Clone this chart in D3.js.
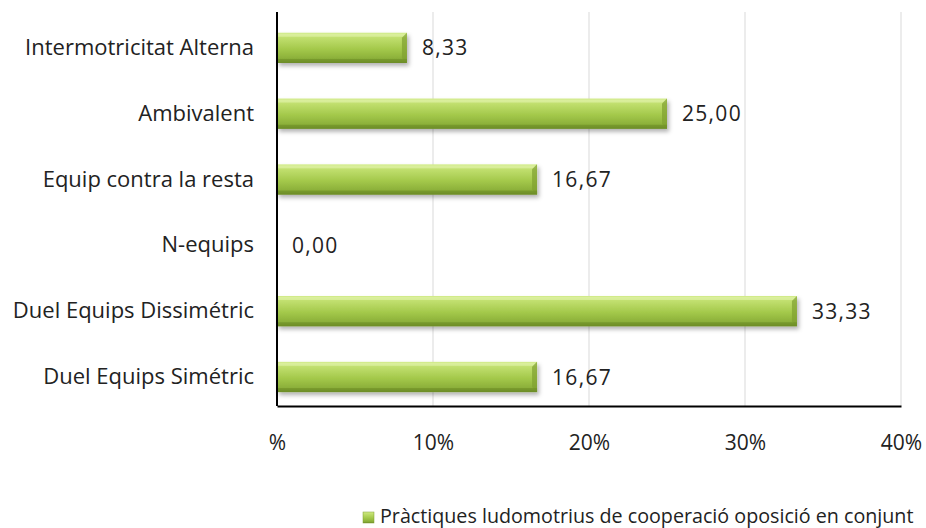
<!DOCTYPE html>
<html><head><meta charset="utf-8">
<script src="https://cdn.jsdelivr.net/npm/d3@7"></script>
<style>body{margin:0;background:#fff;}svg{display:block;font-family:"Open Sans",sans-serif;}</style>
</head><body>
<svg id="c" width="926" height="528"></svg>
<script>
const categories = ["Intermotricitat Alterna","Ambivalent","Equip contra la resta","N-equips","Duel Equips Dissimétric","Duel Equips Simétric"];
const values = [8.33,25.00,16.67,0.00,33.33,16.67];
const ticks = [0,10,20,30,40];
const tickLabels = ["%","10%","20%","30%","40%"];
const seriesName = "Pràctiques ludomotrius de cooperació oposició en conjunt";

const FONT = "'Open Sans',sans-serif";
const data = categories.map((c,i)=>({c, v: values[i]}));
const svg = d3.select("#c");
const m = {l:277, r:901, t:15, b:406};
const x = d3.scaleLinear().domain([0,40]).range([m.l,m.r]);
const y = d3.scaleBand().domain(categories).range([m.t,m.b]).paddingInner(0.54).paddingOuter(0.24).align(0.56);

const defs = svg.append("defs");
const g = defs.append("linearGradient").attr("id","bg").attr("x1",0).attr("y1",0).attr("x2",0).attr("y2",1);
[[0,"#d3ec8c"],[0.15,"#c2e070"],[0.55,"#a3c84a"],[0.85,"#8cb03a"],[1,"#6f8f28"]].forEach(s=>g.append("stop").attr("offset",s[0]).attr("stop-color",s[1]));
const f = defs.append("filter").attr("id","sh").attr("x","-5%").attr("y","-20%").attr("width","115%").attr("height","160%");
f.append("feDropShadow").attr("dx",2).attr("dy",3).attr("stdDeviation",2).attr("flood-color","#000").attr("flood-opacity",0.3);

// gridlines
svg.append("g").selectAll("line").data(ticks.slice(1)).join("line")
  .attr("x1",d=>x(d)).attr("x2",d=>x(d)).attr("y1",12).attr("y2",m.b)
  .attr("stroke","#d9d9d9").attr("stroke-width",1);

// bars
const bh = y.bandwidth();
const pos = data.filter(d=>d.v>0);
const bars = svg.append("g").selectAll("g").data(pos).join("g");
bars.append("rect")
  .attr("x",x(0)).attr("y",d=>y(d.c)).attr("width",d=>x(d.v)-x(0)).attr("height",bh)
  .attr("fill","url(#bg)").attr("filter","url(#sh)");
bars.append("rect")
  .attr("x",x(0)+1).attr("y",d=>y(d.c)+1).attr("width",d=>x(d.v)-x(0)-2).attr("height",3)
  .attr("fill","#e2f3ad").attr("opacity",0.6);
bars.append("path")
  .attr("d",d=>{const y0=y(d.c),x1=x(d.v);return `M${x1},${y0}L${x1},${y0+bh}L${x1-5},${y0+bh-5}L${x1-5},${y0+5}Z`;})
  .attr("fill","#7f9f30").attr("opacity",0.7);
bars.append("rect")
  .attr("x",x(0)).attr("y",d=>y(d.c)+bh-4).attr("width",d=>x(d.v)-x(0)).attr("height",4)
  .attr("fill","#6a8a24").attr("opacity",0.5);

// value labels
svg.append("g").selectAll("text").data(data).join("text")
  .attr("x",d=>x(d.v)+15).attr("y",d=>y(d.c)+bh/2)
  .attr("dy","0.36em").attr("font-size",21).attr("letter-spacing",1.3).attr("fill","#222")
  .text(d=>d.v.toFixed(2).replace(".",","));

// axes
const ya = d3.axisLeft(y).tickSize(0).tickPadding(23);
const yg = svg.append("g").attr("transform",`translate(${m.l},0)`).call(ya);
yg.select(".domain").attr("stroke","#000").attr("stroke-width",2).attr("d",`M0,12V${m.b}`);
yg.selectAll("text").attr("font-size",22).attr("fill","#222").attr("font-family",FONT);

const xa = d3.axisBottom(x).tickValues(ticks).tickFormat((d,i)=>tickLabels[i]).tickSize(0).tickPadding(29);
const xg = svg.append("g").attr("transform",`translate(0,${m.b})`).call(xa);
xg.select(".domain").attr("stroke","#000").attr("stroke-width",2);
xg.selectAll("text").attr("font-size",21).attr("fill","#222").attr("font-family",FONT);

// legend
const lg = svg.append("g").attr("transform","translate(363,523)");
lg.append("rect").attr("x",0).attr("y",-11).attr("width",11).attr("height",11).attr("fill","url(#bg)").attr("stroke","#7f9f30").attr("stroke-width",0.5);
lg.append("text").attr("x",17).attr("y",0).attr("font-size",19.7).attr("fill","#222").text(seriesName);
</script>
</body></html>
